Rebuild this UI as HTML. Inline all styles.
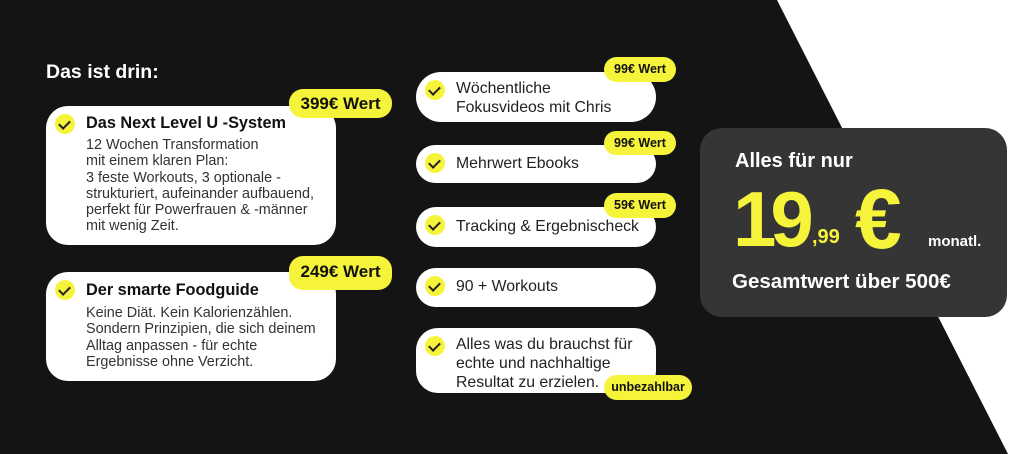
<!DOCTYPE html>
<html><head><meta charset="utf-8"><style>
*{margin:0;padding:0;box-sizing:border-box}
body{width:1024px;height:454px;background:#fff;position:relative;overflow:hidden;font-family:"Liberation Sans",sans-serif}
.abs{position:absolute}
.card{position:absolute;background:#fff;border-radius:22px}
.badge{position:absolute;background:#f6f43a;border-radius:14px;font-weight:bold;color:#111;text-align:center}
.chk{position:absolute;width:20px;height:20px;border-radius:50%;background:#f6f43a}
.chk:after{content:"";position:absolute;left:6px;top:4px;width:5px;height:9px;border:solid #222;border-width:0 2.5px 2.5px 0;transform:rotate(45deg)}
.t{position:absolute;color:#222;font-size:15.8px;line-height:19px}
</style></head><body>
<svg class="abs" style="left:0;top:0" width="1024" height="454"><polygon points="0,0 777,0 1008,454 0,454" fill="#141414"/></svg>
<div class="abs" style="left:46px;top:61px;color:#fff;font-weight:bold;font-size:19.5px">Das ist drin:</div>

<div class="card" style="left:46px;top:106px;width:290px;height:139px"></div>
<div class="chk" style="left:55px;top:114px"></div>
<div class="abs" style="left:86px;top:114px;font-weight:bold;font-size:16.3px;color:#111">Das Next Level U -System</div>
<div class="abs" style="left:86px;top:137px;font-size:14.4px;line-height:16.3px;color:#333;white-space:nowrap">12 Wochen Transformation<br>mit einem klaren Plan:<br>3 feste Workouts, 3 optionale -<br>strukturiert, aufeinander aufbauend,<br>perfekt für Powerfrauen &amp; -männer<br>mit wenig Zeit.</div>
<div class="badge" style="left:289px;top:89px;width:103px;height:29px;line-height:29px;font-size:17px">399€ Wert</div>

<div class="card" style="left:46px;top:272px;width:290px;height:109px"></div>
<div class="chk" style="left:55px;top:280px"></div>
<div class="abs" style="left:86px;top:281px;font-weight:bold;font-size:16.3px;color:#111">Der smarte Foodguide</div>
<div class="abs" style="left:86px;top:305px;font-size:14.4px;line-height:16.3px;color:#333;white-space:nowrap">Keine Diät. Kein Kalorienzählen.<br>Sondern Prinzipien, die sich deinem<br>Alltag anpassen - für echte<br>Ergebnisse ohne Verzicht.</div>
<div class="badge" style="left:289px;top:256px;width:103px;height:34px;line-height:32px;font-size:17px">249€ Wert</div>

<div class="card" style="left:416px;top:72px;width:240px;height:50px;border-radius:25px"></div>
<div class="chk" style="left:425px;top:80px"></div>
<div class="t" style="left:456px;top:79px">Wöchentliche<br>Fokusvideos mit Chris</div>
<div class="badge" style="left:604px;top:57px;width:72px;height:25px;line-height:25px;font-size:12.5px">99€ Wert</div>

<div class="card" style="left:416px;top:145px;width:240px;height:38px;border-radius:19px"></div>
<div class="chk" style="left:425px;top:153px"></div>
<div class="t" style="left:456px;top:154px">Mehrwert Ebooks</div>
<div class="badge" style="left:604px;top:131px;width:72px;height:24px;line-height:24px;font-size:12.5px">99€ Wert</div>

<div class="card" style="left:416px;top:207px;width:240px;height:40px;border-radius:20px"></div>
<div class="chk" style="left:425px;top:215px"></div>
<div class="t" style="left:456px;top:217px">Tracking &amp; Ergebnischeck</div>
<div class="badge" style="left:604px;top:193px;width:72px;height:25px;line-height:25px;font-size:12.5px">59€ Wert</div>

<div class="card" style="left:416px;top:268px;width:240px;height:39px;border-radius:20px"></div>
<div class="chk" style="left:425px;top:276px"></div>
<div class="t" style="left:456px;top:277px">90 + Workouts</div>

<div class="card" style="left:416px;top:328px;width:240px;height:65px"></div>
<div class="chk" style="left:425px;top:336px"></div>
<div class="t" style="left:456px;top:335px">Alles was du brauchst für<br>echte und nachhaltige<br>Resultat zu erzielen.</div>
<div class="badge" style="left:604px;top:375px;width:88px;height:25px;line-height:25px;font-size:12.5px">unbezahlbar</div>

<div class="abs" style="left:700px;top:128px;width:307px;height:189px;background:#353535;border-radius:22px"></div>
<div class="abs" style="left:735px;top:150px;color:#fff;font-weight:bold;font-size:20px">Alles für nur</div>
<div class="abs" style="left:733px;top:176px;color:#f6f43a;font-weight:900;font-size:78px;letter-spacing:-6px;line-height:86px">19</div>
<div class="abs" style="left:812px;top:226px;color:#f6f43a;font-weight:bold;font-size:20px">,99</div>
<div class="abs" style="left:855px;top:176px;color:#f6f43a;font-weight:900;font-size:84px;line-height:86px">€</div>
<div class="abs" style="left:928px;top:233px;color:#fff;font-weight:bold;font-size:15px">monatl.</div>
<div class="abs" style="left:732px;top:270px;color:#fff;font-weight:bold;font-size:20.5px">Gesamtwert über 500€</div>
</body></html>
